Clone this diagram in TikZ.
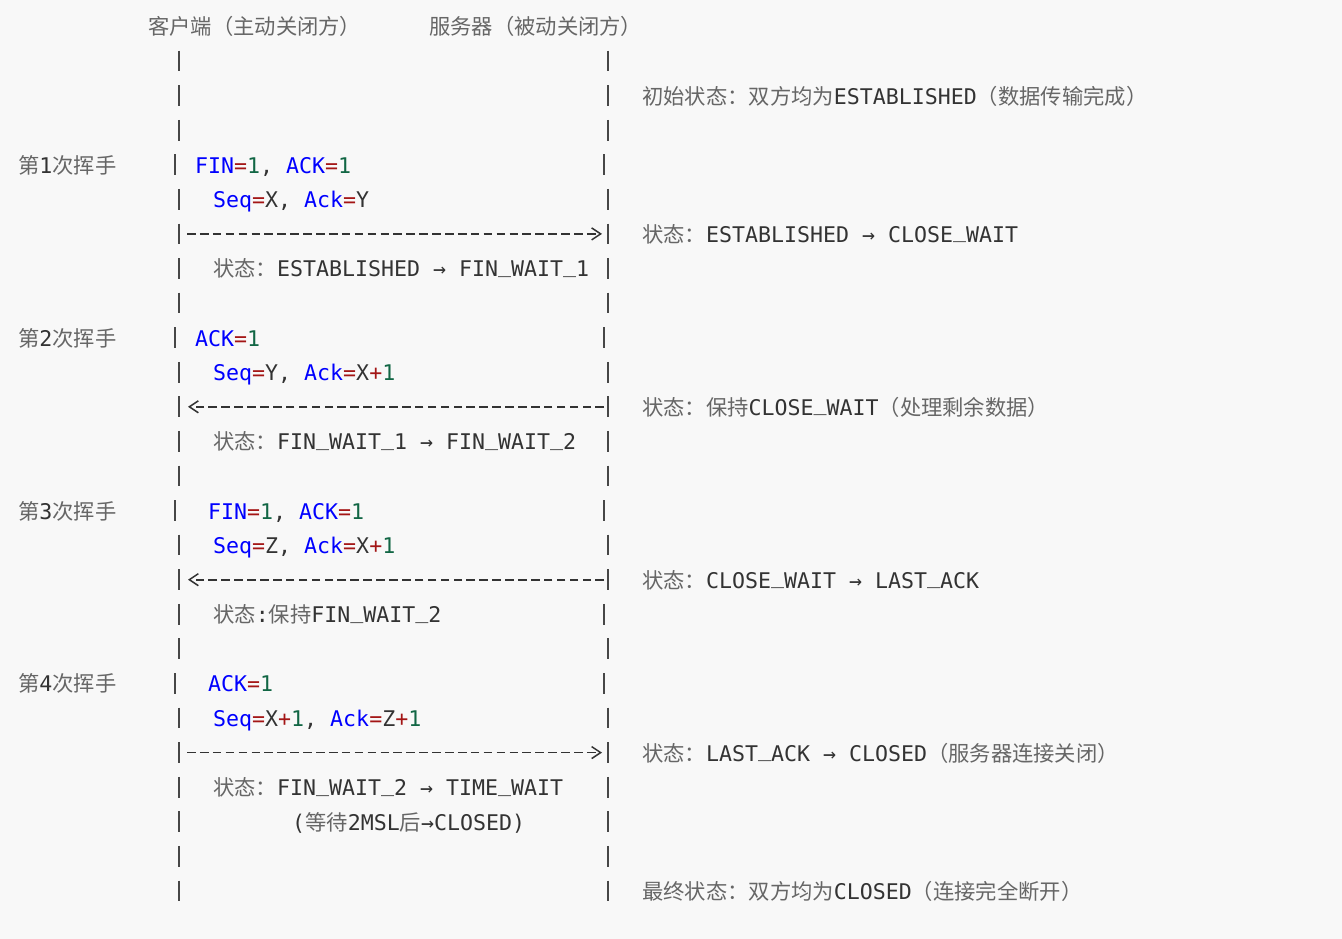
\documentclass[tikz,border=0pt]{standalone}
\usepackage{fontspec}
\usepackage{tikz}
\usetikzlibrary{arrows.meta}
\newfontfamily\codefont{DejaVu Sans Mono}
\newfontfamily\cjk{Noto Sans CJK SC}
\definecolor{bgc}{HTML}{F8F8F8}
\definecolor{ink}{HTML}{333333}
\definecolor{cjkgray}{HTML}{666666}
\definecolor{kwblue}{HTML}{0000FF}
\definecolor{opred}{HTML}{A31515}
\definecolor{numgreen}{HTML}{116644}
\newcommand\cn[1]{{\cjk\fontsize{21.3}{24}\selectfont\color{cjkgray}#1}}
\newcommand\kwd[1]{{\color{kwblue}#1}}
\newcommand\opr[1]{{\color{opred}#1}}
\newcommand\nmb[1]{{\color{numgreen}#1}}
\newcommand\us{\raisebox{4.6pt}{\_}}
\tikzset{
  txt/.style={anchor=base west, yshift=-8.5pt, inner sep=0pt},
  bar/.style={line width=1.8pt, draw=ink!90},
  msg/.style={line width=1.8pt, draw=ink, dash pattern=on 8.6pt off 4.3pt,
    -{Straight Barb[length=9pt,width=12pt,line width=1.5pt]}}
}
\begin{document}
\begin{tikzpicture}[x=1pt, y=-34.58pt, text=ink, font=\codefont\fontsize{21.6}{25}\selectfont]
  \fill[bgc] (0,-0.7635) rectangle (1342,26.39);
  % headers
  \node[txt] (cli) at (148,0) {\cn{客户端（主动关闭方）}};
  \node[txt] (srv) at (429,0) {\cn{服务器（被动关闭方）}};
  % lifelines
  \foreach \r in {1,2,3,5,6,7,8,10,11,12,13,15,16,18,20,21,22,23,24,25} {
    \draw[bar] (179,\r-0.3) -- (179,\r+0.3);
    \draw[bar] (608,\r-0.3) -- (608,\r+0.3);
  }
  \foreach \r in {4,9,14,19} {
    \draw[bar] (175,\r-0.3) -- (175,\r+0.3);
    \draw[bar] (604,\r-0.3) -- (604,\r+0.3);
  }
  \draw[bar] (179,16.7) -- (179,17.3);
  \draw[bar] (604,16.7) -- (604,17.3);
  % handshake labels
  \node[txt] (h1) at (18,4) {\cn{第}1\cn{次挥手}};
  \node[txt] (h2) at (18,9) {\cn{第}2\cn{次挥手}};
  \node[txt] (h3) at (18,14) {\cn{第}3\cn{次挥手}};
  \node[txt] (h4) at (18,19) {\cn{第}4\cn{次挥手}};
  % segments
  \node[txt] (f1) at (195,4) {\kwd{FIN}\opr{=}\nmb{1}, \kwd{ACK}\opr{=}\nmb{1}};
  \node[txt] (q1) at (213,5) {\kwd{Seq}\opr{=}X, \kwd{Ack}\opr{=}Y};
  \node[txt] (f2) at (195,9) {\kwd{ACK}\opr{=}\nmb{1}};
  \node[txt] (q2) at (213,10) {\kwd{Seq}\opr{=}Y, \kwd{Ack}\opr{=}X\opr{+}\nmb{1}};
  \node[txt] (f3) at (208,14) {\kwd{FIN}\opr{=}\nmb{1}, \kwd{ACK}\opr{=}\nmb{1}};
  \node[txt] (q3) at (213,15) {\kwd{Seq}\opr{=}Z, \kwd{Ack}\opr{=}X\opr{+}\nmb{1}};
  \node[txt] (f4) at (208,19) {\kwd{ACK}\opr{=}\nmb{1}};
  \node[txt] (q4) at (213,20) {\kwd{Seq}\opr{=}X\opr{+}\nmb{1}, \kwd{Ack}\opr{=}Z\opr{+}\nmb{1}};
  % messages
  \coordinate (m1s) at (187,6);  \coordinate (m1e) at (602,6);
  \coordinate (m2s) at (604,11); \coordinate (m2e) at (188,11);
  \coordinate (m3s) at (604,16); \coordinate (m3e) at (188,16);
  \coordinate (m4s) at (187,21); \coordinate (m4e) at (602,21);
  \draw[msg] (m1s) -- (m1e);
  \draw[msg] (m2s) -- (m2e);
  \draw[msg] (m3s) -- (m3e);
  \draw[msg] (m4s) -- (m4e);
  % client states
  \node[txt] (c1) at (213,7) {\cn{状态：}ESTABLISHED → FIN\us WAIT\us 1};
  \node[txt] (c2) at (213,12) {\cn{状态：}FIN\us WAIT\us 1 → FIN\us WAIT\us 2};
  \node[txt] (c3) at (213,17) {\cn{状态}:\cn{保持}FIN\us WAIT\us 2};
  \node[txt] (c4) at (213,22) {\cn{状态：}FIN\us WAIT\us 2 → TIME\us WAIT};
  \node[txt] (c5) at (292,23) {(\cn{等待}2MSL\cn{后}→CLOSED)};
  % server states
  \node[txt] (s0) at (642,2) {\cn{初始状态：双方均为}ESTABLISHED\cn{（数据传输完成）}};
  \node[txt] (s1) at (642,6) {\cn{状态：}ESTABLISHED → CLOSE\us WAIT};
  \node[txt] (s2) at (642,11) {\cn{状态：保持}CLOSE\us WAIT\cn{（处理剩余数据）}};
  \node[txt] (s3) at (642,16) {\cn{状态：}CLOSE\us WAIT → LAST\us ACK};
  \node[txt] (s4) at (642,21) {\cn{状态：}LAST\us ACK → CLOSED\cn{（服务器连接关闭）}};
  \node[txt] (s5) at (642,25) {\cn{最终状态：双方均为}CLOSED\cn{（连接完全断开）}};
\end{tikzpicture}
\end{document}
